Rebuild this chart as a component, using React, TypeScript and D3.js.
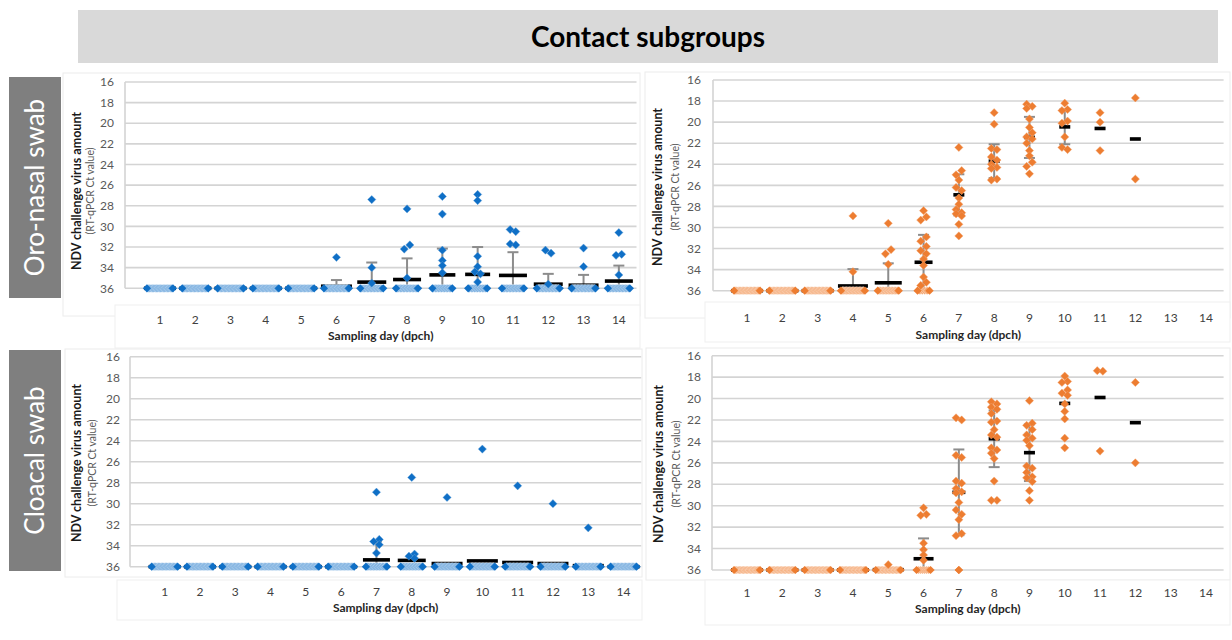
import React from "react";
import * as d3 from "d3";

// ---------- data ----------
const DAYS = [1, 2, 3, 4, 5, 6, 7, 8, 9, 10, 11, 12, 13, 14];
const Y_TICKS = [16, 18, 20, 22, 24, 26, 28, 30, 32, 34, 36];
const TITLE = "Contact subgroups";
const ROW_LABELS = ["Oro-nasal swab", "Cloacal swab"];
const Y_TITLE = "NDV challenge virus amount";
const Y_SUBTITLE = "(RT-qPCR Ct value)";
const X_TITLE = "Sampling day (dpch)";

// Oro-nasal swab, first contact group (blue)
const ORO_BLUE_POS: number[][] = [
  [], [], [], [], [],
  [33.0],
  [27.4, 34.0, 35.5],
  [28.3, 31.8, 32.2, 35.0],
  [27.1, 28.8, 32.3, 33.3, 33.8, 34.5],
  [26.9, 27.5, 32.9, 33.9, 34.4, 34.6, 35.4],
  [30.3, 30.5, 31.7, 31.8],
  [32.3, 32.6, 35.6],
  [32.1, 33.9],
  [30.6, 32.7, 32.8, 34.7],
];
const ORO_BLUE_NEG = [20, 20, 20, 20, 20, 19, 17, 16, 14, 13, 16, 17, 18, 16];
const ORO_BLUE_MEAN = [36, 36, 36, 36, 36, 35.8, 35.4, 35.15, 34.7, 34.65, 34.75, 35.6, 35.7, 35.3];
const ORO_BLUE_SD = [null, null, null, null, null, 0.6, 1.9, 2.05, 2.55, 2.65, 2.25, 1.0, 1.0, 1.5];

// Oro-nasal swab, second contact group (orange)
const ORO_ORANGE_POS: number[][] = [
  [], [], [],
  [28.9, 34.2],
  [29.6, 32.1, 32.5, 33.5],
  [28.4, 29.0, 29.3, 30.9, 31.3, 31.8, 32.2, 32.5, 33.0, 33.6, 34.7, 35.2, 35.5],
  [22.4, 24.6, 25.0, 25.5, 26.2, 26.5, 27.2, 27.8, 28.3, 28.6, 28.7, 28.9, 29.7, 30.8],
  [19.1, 20.2, 22.5, 22.6, 23.3, 23.6, 24.0, 24.3, 24.4, 25.4, 25.5],
  [18.3, 18.5, 18.7, 19.7, 20.5, 21.0, 21.4, 21.6, 22.0, 22.7, 23.2, 23.8, 24.2, 24.9],
  [18.2, 18.8, 18.9, 19.9, 20.1, 21.4, 22.4, 22.6],
  [19.1, 20.0, 22.7],
  [17.7, 25.4],
  [], [],
];
const ORO_ORANGE_NEG = [20, 20, 20, 18, 15, 6, 0, 0, 0, 0, 0, 0, 0, 0];
const ORO_ORANGE_MEAN = [36, 36, 36, 35.55, 35.25, 33.3, 26.9, 23.7, 21.45, 20.45, 20.6, 21.6, null, null];
const ORO_ORANGE_SD = [null, null, null, 1.6, 1.85, 2.6, 1.95, 1.6, 1.95, 1.65, null, null, null, null];

// Cloacal swab, first contact group (blue)
const CLO_BLUE_POS: number[][] = [
  [], [], [], [], [], [],
  [28.9, 33.4, 33.6, 33.9, 34.7],
  [27.5, 34.8, 35.0, 35.2],
  [29.4],
  [24.8],
  [28.3],
  [30.0],
  [32.3],
  [],
];
const CLO_BLUE_NEG = [20, 20, 20, 20, 20, 20, 15, 16, 19, 19, 19, 19, 19, 20];
const CLO_BLUE_MEAN = [36, 36, 36, 36, 36, 36, 35.35, 35.4, 35.7, 35.45, 35.6, 35.7, 35.9, 36];
const CLO_BLUE_SD = [null, null, null, null, null, null, 1.75, null, null, null, null, null, null, null];

// Cloacal swab, second contact group (orange)
const CLO_ORANGE_POS: number[][] = [
  [], [], [], [],
  [35.5],
  [30.2, 30.8, 30.9, 33.5, 34.1, 34.6, 35.1],
  [21.8, 22.0, 25.3, 25.5, 27.7, 27.9, 28.4, 28.7, 28.8, 29.7, 30.4, 30.8, 31.3, 32.6, 32.8],
  [20.3, 20.5, 20.8, 21.0, 21.4, 22.1, 22.2, 22.9, 23.4, 23.6, 24.6, 24.8, 25.1, 25.6, 27.7, 29.5, 29.5],
  [20.2, 22.3, 22.5, 22.9, 23.4, 23.7, 23.9, 24.4, 26.3, 26.5, 26.9, 27.3, 27.4, 27.75, 28.6, 29.5],
  [17.9, 18.4, 18.5, 19.2, 19.5, 19.7, 20.5, 21.2, 21.9, 23.7, 24.6],
  [17.4, 17.45, 24.9],
  [18.5, 26.0],
  [], [],
];
const CLO_ORANGE_NEG = [20, 20, 20, 20, 19, 8, 1, 0, 0, 0, 0, 0, 0, 0];
const CLO_ORANGE_MEAN = [36, 36, 36, 36, 35.97, 34.95, 28.75, 23.75, 25.05, 20.45, 19.9, 22.25, null, null];
const CLO_ORANGE_SD = [null, null, null, null, null, 1.9, 4.0, 2.65, 2.65, null, null, null, null, null];

// ---------- styling / layout ----------
const FONT = "Lato, 'Open Sans', sans-serif";
const BLUE = { dark: "#0F6FC6", light: "#6CA6DC" };
const ORANGE = { dark: "#ED7D31", light: "#F4A874" };

type PanelSpec = {
  pos: number[][];
  neg: number[];
  mean: (number | null)[];
  sd: (number | null)[];
  color: { dark: string; light: string };
  axisX: number;
  band: [number, number];
  yRange: [number, number];
  tickEnd: number;
  yTitleX: number;
  ySubX: number;
  yTitleY: number;
  xLabelY: number;
  xTitleY: number;
  frame: [number, number, number, number];
  strip: [number, number, number, number];
};

const PANELS: PanelSpec[] = [
  {
    pos: ORO_BLUE_POS, neg: ORO_BLUE_NEG, mean: ORO_BLUE_MEAN, sd: ORO_BLUE_SD, color: BLUE,
    axisX: 125, band: [142.3, 636.5], yRange: [82, 288.3], tickEnd: 114,
    yTitleX: 77, ySubX: 90, yTitleY: 191, xLabelY: 320, xTitleY: 336,
    frame: [63, 73, 577, 243], strip: [115, 305, 525, 43],
  },
  {
    pos: ORO_ORANGE_POS, neg: ORO_ORANGE_NEG, mean: ORO_ORANGE_MEAN, sd: ORO_ORANGE_SD, color: ORANGE,
    axisX: 713, band: [729.4, 1223.6], yRange: [80, 290.7], tickEnd: 701,
    yTitleX: 658, ySubX: 675, yTitleY: 187, xLabelY: 318, xTitleY: 335,
    frame: [645, 72, 585, 246], strip: [705, 302, 525, 40],
  },
  {
    pos: CLO_BLUE_POS, neg: CLO_BLUE_NEG, mean: CLO_BLUE_MEAN, sd: CLO_BLUE_SD, color: BLUE,
    axisX: 130, band: [147, 641.2], yRange: [356.7, 566.7], tickEnd: 120,
    yTitleX: 77, ySubX: 92, yTitleY: 463, xLabelY: 592, xTitleY: 608,
    frame: [65, 349, 577, 228], strip: [117, 580, 525, 40],
  },
  {
    pos: CLO_ORANGE_POS, neg: CLO_ORANGE_NEG, mean: CLO_ORANGE_MEAN, sd: CLO_ORANGE_SD, color: ORANGE,
    axisX: 712, band: [729.4, 1223.6], yRange: [355.7, 570], tickEnd: 701,
    yTitleX: 659, ySubX: 676, yTitleY: 464, xLabelY: 593, xTitleY: 609,
    frame: [646, 348, 584, 232], strip: [705, 580, 525, 45],
  },
];

const diamond = d3.symbol().type(d3.symbolSquare).size(34)() as string;

function jitter(values: number[]): { v: number; dx: number }[] {
  const sorted = [...values].sort((a, b) => a - b);
  return sorted.map((v, i) => {
    const close =
      (i > 0 && Math.abs(v - sorted[i - 1]) < 0.5) ||
      (i < sorted.length - 1 && Math.abs(sorted[i + 1] - v) < 0.5);
    return { v, dx: close ? (i % 2 === 0 ? -2.8 : 2.8) : 0 };
  });
}

function Panel({ p }: { p: PanelSpec }) {
  const y = d3.scaleLinear().domain([16, 36]).range(p.yRange);
  const x = d3.scaleBand<number>().domain(DAYS).range(p.band);
  const bw = x.bandwidth();
  const gridRight = p.band[1];
  const cx = (d: number) => (x(d) as number) + bw / 2;
  const yMax = 36;

  return (
    <g>
      <rect x={p.frame[0]} y={p.frame[1]} width={p.frame[2]} height={p.frame[3]} fill="#fff" stroke="#ececec" strokeWidth={1} />
      <rect x={p.strip[0]} y={p.strip[1]} width={p.strip[2]} height={p.strip[3]} fill="#fff" stroke="#efefef" strokeWidth={1} />
      {Y_TICKS.map((t) => (
        <g key={t}>
          <line x1={p.axisX} x2={gridRight} y1={y(t)} y2={y(t)} stroke="#d4d4d4" strokeWidth={1.6} />
          <text x={p.tickEnd} y={y(t)} dy="0.35em" textAnchor="end" fontSize={12} fill="#595959" fontFamily={FONT}>
            {t}
          </text>
        </g>
      ))}
      <line x1={p.axisX} x2={p.axisX} y1={y(16)} y2={y(36)} stroke="#d4d4d4" strokeWidth={1.6} />
      {DAYS.map((d) => (
        <text key={d} x={cx(d)} y={p.xLabelY} dy="0.35em" textAnchor="middle" fontSize={12} fill="#404040" fontFamily={FONT}>
          {d}
        </text>
      ))}
      <text
        x={(p.axisX + gridRight) / 2}
        y={p.xTitleY}
        dy="0.35em"
        textAnchor="middle"
        fontSize={12}
        fontWeight="bold"
        fill="#262626"
        fontFamily={FONT}
      >
        {X_TITLE}
      </text>
      <text
        transform={`translate(${p.yTitleX},${p.yTitleY}) rotate(-90)`}
        textAnchor="middle"
        dy="0.35em"
        fontSize={12.5}
        fontWeight="bold"
        fill="#1a1a1a"
        fontFamily={FONT}
      >
        {Y_TITLE}
      </text>
      <text
        transform={`translate(${p.ySubX},${p.yTitleY}) rotate(-90)`}
        textAnchor="middle"
        dy="0.35em"
        fontSize={10.5}
        fill="#595959"
        fontFamily={FONT}
      >
        {Y_SUBTITLE}
      </text>

      {/* error bars */}
      {DAYS.map((d, i) => {
        const m = p.mean[i];
        const s = p.sd[i];
        if (m == null || s == null) return null;
        const top = m - s;
        const bot = Math.min(m + s, yMax);
        return (
          <g key={"e" + d} stroke="#8c8c8c" strokeWidth={2}>
            <line x1={cx(d)} x2={cx(d)} y1={y(top)} y2={y(bot)} />
            <line x1={cx(d) - 5.5} x2={cx(d) + 5.5} y1={y(top)} y2={y(top)} />
            {m + s <= yMax ? <line x1={cx(d) - 5.5} x2={cx(d) + 5.5} y1={y(m + s)} y2={y(m + s)} /> : null}
          </g>
        );
      })}

      {/* mean bars */}
      {DAYS.map((d, i) => {
        const m = p.mean[i];
        if (m == null) return null;
        const n = p.neg[i];
        const w = n > 0 ? 6 + n * 1.0 + 6 : 11;
        return <rect key={"m" + d} x={cx(d) - w / 2} y={y(m) - 1.8} width={w} height={3.6} fill="#000" />;
      })}

      {/* negative samples (Ct 36) spread across the day */}
      {DAYS.map((d, i) => {
        const n = p.neg[i];
        if (n <= 0) return null;
        const spread = n > 1 ? 6 + n * 1.0 : 0;
        const xs = d3.range(n).map((k) => (n > 1 ? cx(d) - spread / 2 + (k * spread) / (n - 1) : cx(d)));
        return (
          <g key={"n" + d}>
            {xs.map((xx, k) =>
              k === 0 || k === n - 1 ? null : (
                <path key={k} d={diamond} transform={`translate(${xx},${y(36)}) rotate(45)`} fill={p.color.light} stroke="#ffffff" strokeWidth={0.5} strokeOpacity={0.7} />
              )
            )}
            {[xs[0], xs[n - 1]].map((xx, k) => (
              <path key={"end" + k} d={diamond} transform={`translate(${xx},${y(36)}) rotate(45)`} fill={p.color.dark} />
            ))}
          </g>
        );
      })}

      {/* positive samples */}
      {DAYS.map((d, i) => (
        <g key={"p" + d}>
          {jitter(p.pos[i]).map((pt, k) => (
            <path key={k} d={diamond} transform={`translate(${cx(d) + pt.dx},${y(pt.v)}) rotate(45)`} fill={p.color.dark} stroke={p.color.light} strokeWidth={0.4} />
          ))}
        </g>
      ))}
    </g>
  );
}

export default function App() {
  return (
    <svg
      width={1232}
      height={640}
      style={{ position: "absolute", left: 0, top: 0, background: "#fff" }}
      fontFamily={FONT}
    >
      <rect x={0} y={0} width={1232} height={640} fill="#fff" />
      <rect x={78} y={10} width={1140} height={53} fill="#d9d9d9" />
      <text x={648} y={37} dy="0.35em" textAnchor="middle" fontSize={28} fontWeight="bold" fill="#000">
        {TITLE}
      </text>
      {PANELS.map((p, i) => (
        <Panel key={i} p={p} />
      ))}
      {ROW_LABELS.map((label, i) => {
        const top = i === 0 ? 77 : 350;
        return (
          <g key={label}>
            <rect x={9} y={top} width={52} height={221} fill="#7f7f7f" />
            <text
              transform={`translate(35,${top + 110.5}) rotate(-90)`}
              textAnchor="middle"
              dy="0.35em"
              fontSize={26}
              fill="#fff"
            >
              {label}
            </text>
          </g>
        );
      })}
    </svg>
  );
}
